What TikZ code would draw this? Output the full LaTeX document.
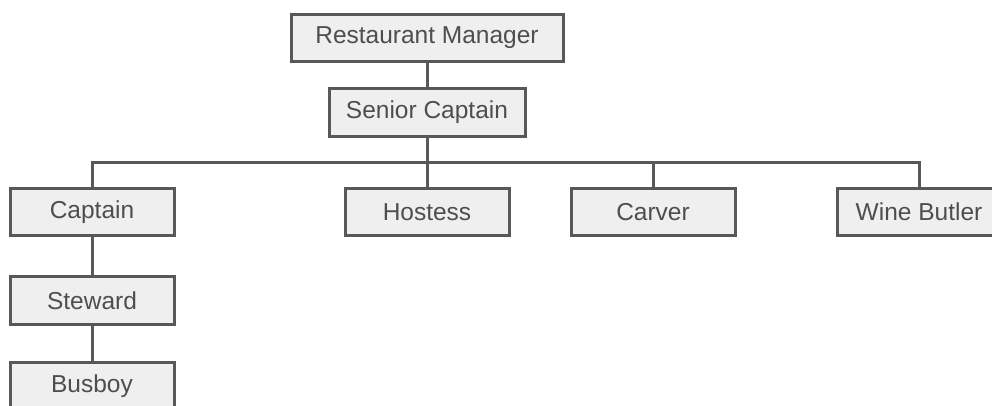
\documentclass[tikz,border=0pt]{standalone}
\usepackage{fontspec}
\setmainfont{Liberation Sans}
\definecolor{boxfill}{HTML}{EEEFEE}
\definecolor{boxline}{HTML}{585858}
\definecolor{boxtext}{HTML}{4E4E4E}
\tikzset{
  role/.style={draw=boxline, fill=boxfill, line width=3pt, text=boxtext,
    font=\fontsize{24.5}{27}\selectfont, minimum height=47.5pt,
    minimum width=164pt, inner sep=0pt},
  link/.style={draw=boxline, line width=3pt}
}
\begin{document}
\begin{tikzpicture}[x=1pt,y=-1pt]
  \useasboundingbox (0,0) rectangle (992,406);
  \clip (0,0) rectangle (992,406);
  \coordinate (bus) at (0,163);
  % the boxes of the chart
  \node[role, minimum width=272pt] (rm) at (427,38) {Restaurant Manager};
  \node[role, minimum width=196pt] (sc) at (427,112.5) {Senior Captain};
  \node[role] (cap) at (92,212) {Captain};
  \node[role] (host) at (427,212) {Hostess};
  \node[role] (carv) at (653,212) {Carver};
  \node[role] (wb) at (919,212) {Wine Butler};
  \node[role] (stw) at (92,300.5) {Steward};
  \node[role] (bb) at (92,386) {Busboy};
  % reporting lines
  \draw[link] (rm.south) -- (sc.north);
  \draw[link] (sc.south) -- (sc.south |- bus);
  \draw[link] (cap.north) |- (wb.north |- bus) -- (wb.north);
  \draw[link] (host.north) -- (host.north |- bus);
  \draw[link] (carv.north) -- (carv.north |- bus);
  \draw[link] (cap.south) -- (stw.north);
  \draw[link] (stw.south) -- (bb.north);
\end{tikzpicture}
\end{document}
